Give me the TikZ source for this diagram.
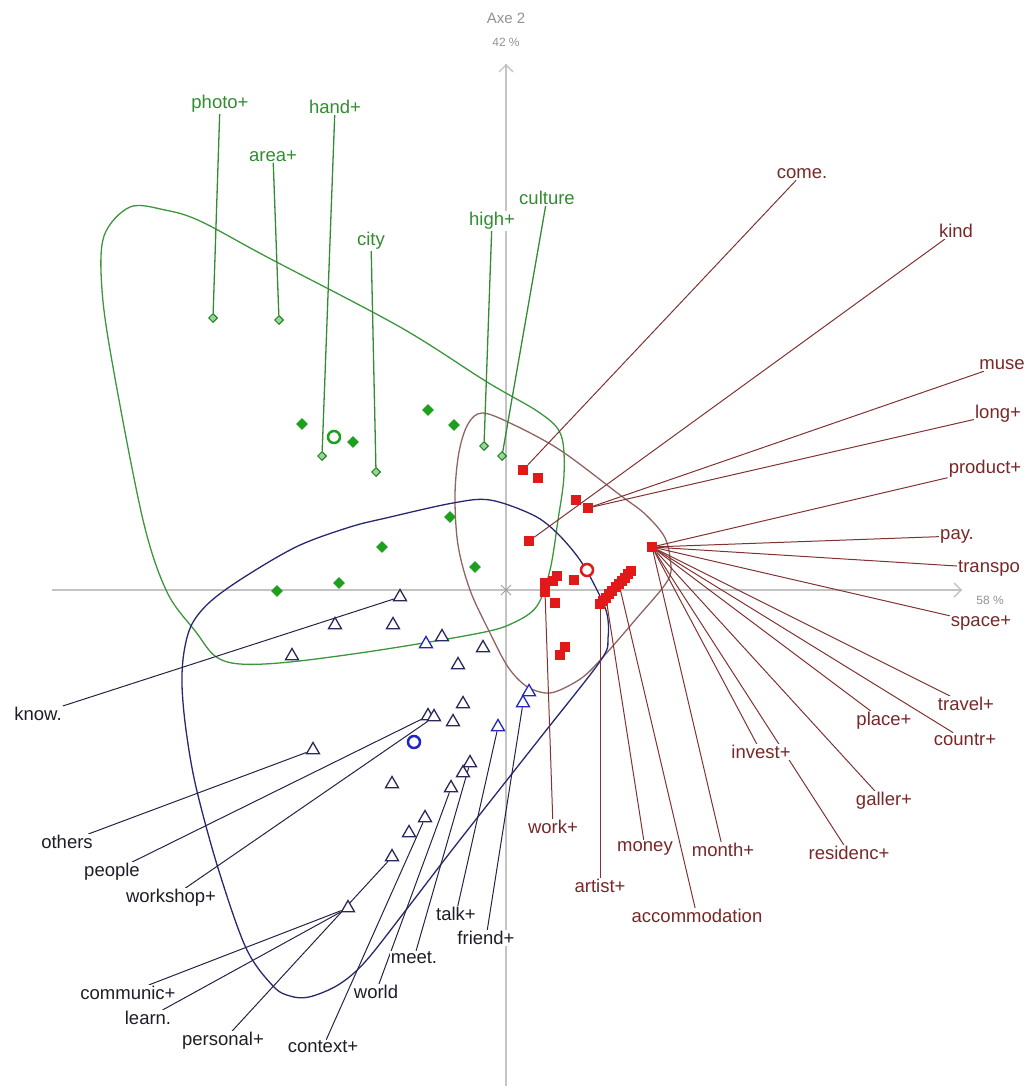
\documentclass[tikz,border=0pt]{standalone}
\usepackage{fontspec}
\setmainfont{Liberation Sans}
\usetikzlibrary{arrows.meta,shapes.geometric,backgrounds}

\definecolor{vertpt}{RGB}{30,160,30}
\definecolor{vertlab}{RGB}{50,140,50}
\definecolor{rougept}{RGB}{225,25,25}
\definecolor{rougelab}{RGB}{120,40,40}
\definecolor{rougetrait}{RGB}{130,50,50}
\definecolor{bleulab}{RGB}{30,30,40}
\definecolor{bleutrait}{RGB}{35,35,70}
\definecolor{bleupt}{RGB}{40,40,90}
\definecolor{bleuvif}{RGB}{30,40,190}
\definecolor{grisaxe}{RGB}{195,195,195}
\definecolor{envvert}{RGB}{60,150,60}
\definecolor{envbrun}{RGB}{145,100,100}
\definecolor{envbleu}{RGB}{40,40,110}

\begin{document}
\begin{tikzpicture}[x=1pt,y=-1pt,
    etiq/.style={inner sep=1pt,fill=white,font=\fontsize{18.5}{20}\selectfont},
    etiqvert/.style={etiq,text=vertlab},
    etiqrouge/.style={etiq,text=rougelab},
    etiqbleu/.style={etiq,text=bleulab},
    titreaxe/.style={inner sep=1pt,text=grisaxe!75!black,font=\fontsize{15}{17}\selectfont},
    pctaxe/.style={inner sep=1pt,text=grisaxe!75!black,font=\fontsize{12}{14}\selectfont},
    ptvert/.style={diamond,fill=vertpt,inner sep=0pt,minimum size=12pt},
    ptvertlab/.style={diamond,draw=vertpt!80!black,fill=vertpt!45!white,line width=1pt,inner sep=0pt,minimum size=9pt},
    ptrouge/.style={rectangle,fill=rougept,inner sep=0pt,minimum size=10pt},
    ptbleu/.style={regular polygon,regular polygon sides=3,draw=bleupt,fill=white,line width=1.3pt,inner sep=0pt,minimum size=15pt},
    ptbleuvif/.style={ptbleu,draw=bleuvif},
    centre/.style={circle,draw,fill=white,line width=2.5pt,inner sep=0pt,minimum size=12pt},
    axe/.style={draw=grisaxe,line width=1.6pt},
    traitvert/.style={draw=vertlab,line width=1.3pt},
    traitrouge/.style={draw=rougetrait,line width=1pt},
    traitbleu/.style={draw=bleutrait,line width=1pt},
    enveloppe/.style={line width=1.3pt}
]
\useasboundingbox (0,0) rectangle (1024,1086);

% Titres des axes
\node[titreaxe] (axe2) at (506,18) {Axe 2};
\node[pctaxe] (pct2) at (506,42) {42 \%};
\node[pctaxe] (pct1) at (990,600) {58 \%};
\coordinate (haut) at (506,64);
\coordinate (bas) at (506,1086);
\coordinate (gauche) at (52,590);
\coordinate (droite) at (962,590);
\coordinate (origine) at (506,590);

% Points verts
\node[ptvertlab] (pphoto) at (213,318) {};
\node[ptvertlab] (parea) at (279,320) {};
\node[ptvertlab] (phand) at (322,456) {};
\node[ptvertlab] (pcity) at (376,472) {};
\node[ptvertlab] (phigh) at (484,446) {};
\node[ptvertlab] (pculture) at (502,456) {};
\foreach \x/\y [count=\i] in {302/424,353/442,428/410,454/425,450/517,382/547,475/567,339/583,277/591}
  \node[ptvert] (v\i) at (\x,\y) {};
\node[centre,draw=vertpt] (cvert) at (334,437) {};

% Points rouges
\node[ptrouge] (pcome) at (523,470) {};
\node[ptrouge] (r1) at (538,478) {};
\node[ptrouge] (r2) at (576,500) {};
\node[ptrouge] (pmuse) at (588,508) {};
\node[ptrouge] (pkind) at (529,541) {};
\node[ptrouge] (phub) at (652,547) {};
\foreach \x/\y [count=\i] in {557/576,574/580,553/581,545/583,555/603,565/647,560/655,
    603/601,609/594,612/591,616/587,622/581,625/578,628/574,631/571}
  \node[ptrouge] (r\i) at (\x,\y) {};
\node[ptrouge] (pwork) at (545,592) {};
\node[ptrouge] (partist) at (600,604) {};
\node[ptrouge] (pmoney) at (606,598) {};
\node[ptrouge] (paccom) at (619,584) {};
\node[centre,draw=rougept] (crouge) at (587,570) {};

% Points bleus
\node[ptbleu] (pknow) at (400,597) {};
\foreach \x/\y [count=\i] in {335/625,393/625,292/656,442/637,483/648,458/665,463/704,453/722,392/784,463/773,409/833}
  \node[ptbleu] (b\i) at (\x,\y) {};
\node[ptbleuvif] (bv1) at (426,644) {};
\node[ptbleuvif] (bv2) at (529,692) {};
\node[ptbleuvif] (pfriend) at (523,703) {};
\node[ptbleuvif] (ptalk) at (498,727) {};
\node[ptbleu] (ppeople) at (428,716) {};
\node[ptbleu] (pworkshop) at (434,717) {};
\node[ptbleu] (pothers) at (313,750) {};
\node[ptbleu] (pmeet) at (470,763) {};
\node[ptbleu] (pworld) at (451,788) {};
\node[ptbleu] (pcontext) at (425,818) {};
\node[ptbleu] (ppersonal) at (392,857) {};
\node[ptbleu] (pcommunic) at (348,908) {};
\node[centre,draw=bleuvif] (cbleu) at (414,742) {};

% Etiquettes vertes
\node[etiqvert] (lphoto) at (220,104) {photo+};
\node[etiqvert] (lhand) at (335,107) {hand+};
\node[etiqvert] (larea) at (273,156) {area+};
\node[etiqvert] (lcity) at (371,241) {city};
\node[etiqvert] (lhigh) at (492,221) {high+};
\node[etiqvert] (lculture) at (547,198) {culture};

% Etiquettes rouges
\node[etiqrouge] (lcome) at (802,174) {come.};
\node[etiqrouge] (lkind) at (956,231) {kind};
\node[etiqrouge] (lmuse) at (1002,365) {muse};
\node[etiqrouge] (llong) at (998,414) {long+};
\node[etiqrouge] (lproduct) at (985,469) {product+};
\node[etiqrouge] (lpay) at (957,536) {pay.};
\node[etiqrouge] (ltranspo) at (989,568) {transpo};
\node[etiqrouge] (lspace) at (981,623) {space+};
\node[etiqrouge] (ltravel) at (966,704) {travel+};
\node[etiqrouge] (lplace) at (884,721) {place+};
\node[etiqrouge] (lcountr) at (965,740) {countr+};
\node[etiqrouge] (linvest) at (761,752) {invest+};
\node[etiqrouge] (lgaller) at (884,801) {galler+};
\node[etiqrouge] (lresid) at (849,853) {residenc+};
\node[etiqrouge] (lwork) at (553,827) {work+};
\node[etiqrouge] (lmoney) at (645,848) {money};
\node[etiqrouge] (lmonth) at (723,850) {month+};
\node[etiqrouge] (lartist) at (600,886) {artist+};
\node[etiqrouge] (laccom) at (697,916) {accommodation};

% Etiquettes bleues
\node[etiqbleu] (lknow) at (38,714) {know.};
\node[etiqbleu] (lothers) at (67,842) {others};
\node[etiqbleu] (lpeople) at (112,872) {people};
\node[etiqbleu] (lworkshop) at (171,898) {workshop+};
\node[etiqbleu] (lcommunic) at (128,993) {communic+};
\node[etiqbleu] (llearn) at (148,1018) {learn.};
\node[etiqbleu] (lpersonal) at (223,1041) {personal+};
\node[etiqbleu] (lcontext) at (323,1047) {context+};
\node[etiqbleu] (lworld) at (376,992) {world};
\node[etiqbleu] (lmeet) at (414,958) {meet.};
\node[etiqbleu] (ltalk) at (456,914) {talk+};
\node[etiqbleu] (lfriend) at (486,938) {friend+};

\begin{pgfonlayer}{background}
  % Axes
  \draw[axe] (bas) -- (haut);
  \draw[axe] (gauche) -- (droite);
  \draw[grisaxe,line width=1.4pt,-{Straight Barb[length=7pt,width=14pt]}] ([yshift=-2pt]haut) -- (haut);
  \draw[grisaxe,line width=1.4pt,-{Straight Barb[length=7pt,width=14pt]}] ([xshift=-2pt]droite) -- (droite);
  \draw[grisaxe!80!black,line width=0.8pt] ([shift={(-5,-5)}]origine) -- ([shift={(5,5)}]origine)
    ([shift={(-5,5)}]origine) -- ([shift={(5,-5)}]origine);

  % Enveloppes
  \draw[enveloppe,envvert] plot[smooth cycle,tension=0.55] coordinates {
    (130,207) (165,210) (200,221) (267,257) (400,327) (487,382) (540,413) (561,435)
    (564,475) (558,520) (550,570) (537,606) (513,623) (480,633) (380,650) (290,662)
    (240,664) (215,656) (196,632) (167,592) (143,520) (113,367) (102,290) (104,236)};
  \draw[enveloppe,envbrun] plot[smooth cycle,tension=0.55] coordinates {
    (482,413) (510,423) (560,450) (620,495) (645,514) (664,536) (670,558) (668,580)
    (636,619) (603,657) (583,677) (560,690) (545,693) (526,686) (508,667) (490,633)
    (470,590) (458,545) (455,495) (459,452) (468,424)};
  \draw[enveloppe,envbleu] plot[smooth cycle,tension=0.55] coordinates {
    (386,518) (453,503) (490,500) (533,515) (557,533) (580,560) (597,590) (607,614)
    (608,638) (601,660) (544,733) (507,780) (452,850) (406,910) (365,962) (338,985)
    (309,997) (290,996) (273,986) (246,948) (218,868) (196,787) (186,730) (182,685)
    (184,652) (192,624) (211,601) (246,576) (298,546) (350,527)};

  % Traits verts
  \foreach \a/\b in {pphoto/lphoto,parea/larea,phand/lhand,pcity/lcity,phigh/lhigh,pculture/lculture}
    \draw[traitvert] (\a) -- (\b);

  % Traits rouges
  \foreach \a/\b in {pcome/lcome,pkind/lkind,pmuse/lmuse,pmuse/llong,phub/lproduct,phub/lpay,
      phub/ltranspo,phub/lspace,phub/ltravel,phub/lplace,phub/lcountr,phub/linvest,phub/lgaller,
      phub/lresid,phub/lmonth,pwork/lwork,pmoney/lmoney,partist/lartist,paccom/laccom}
    \draw[traitrouge] (\a) -- (\b);

  % Traits bleus
  \foreach \a/\b in {pknow/lknow,pothers/lothers,ppeople/lpeople,pworkshop/lworkshop,
      pcommunic/lcommunic,pcommunic/llearn,ppersonal/lpersonal,pcontext/lcontext,
      pworld/lworld,pmeet/lmeet,ptalk/ltalk,pfriend/lfriend}
    \draw[traitbleu] (\a) -- (\b);
\end{pgfonlayer}
\end{tikzpicture}
\end{document}
